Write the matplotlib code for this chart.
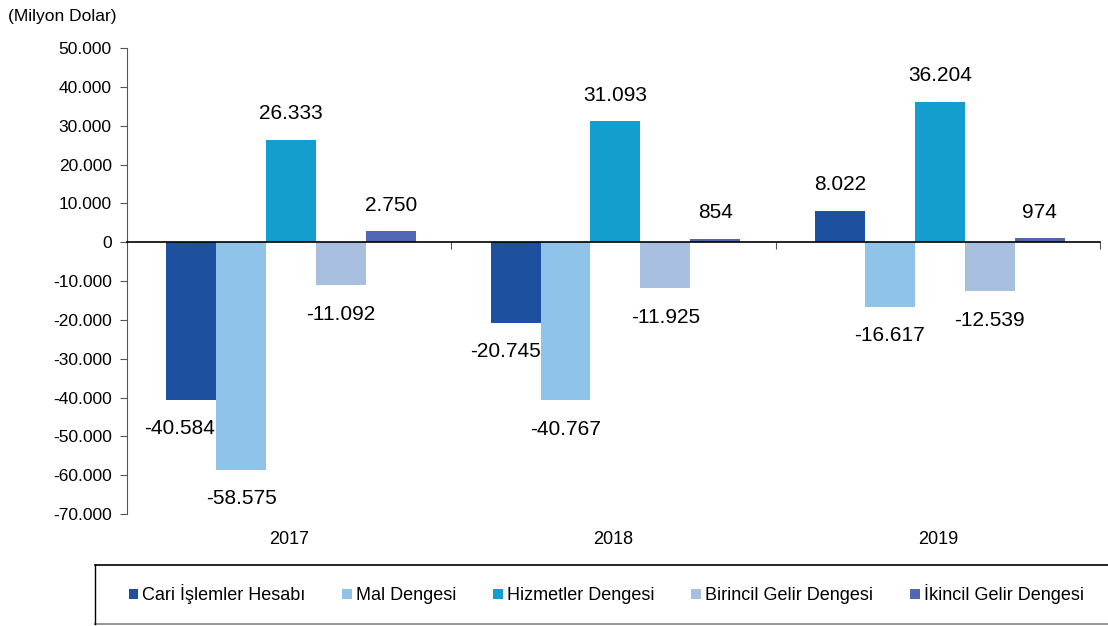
import matplotlib
matplotlib.use("Agg")
import matplotlib.pyplot as plt
import numpy as np

plt.rcParams['font.family'] = ['Liberation Sans', 'DejaVu Sans']

# Ödemeler dengesi ana kalemleri, milyon dolar
years = ["2017", "2018", "2019"]
series_names = ["Cari İşlemler Hesabı", "Mal Dengesi", "Hizmetler Dengesi",
                "Birincil Gelir Dengesi", "İkincil Gelir Dengesi"]
cari = [-40584, -20745, 8022]
mal = [-58575, -40767, -16617]
hizmet = [26333, 31093, 36204]
birincil = [-11092, -11925, -12539]
ikincil = [2750, 854, 974]

colors = ["#1D51A0", "#8FC3E9", "#139ECD", "#A8BFE0", "#5167B1"]
yticks = list(range(-70000, 50001, 10000))


def tr_fmt(v):
    # Turkish thousands separator
    s = "{:,.0f}".format(abs(v)).replace(",", ".")
    return "-" + s if v < 0 else s


fig = plt.figure(figsize=(11.08, 6.26), dpi=100)
ax = fig.add_axes([0.1146, 0.1789, 0.8782, 0.7444])

values = [cari, mal, hizmet, birincil, ikincil]
x = np.arange(len(years)) + 0.006
w = 0.154
# small sideways nudges for a couple of labels so they clear the next bar
nudge = {(0, 0): -12, (0, 1): -10}

for i, (name, vals, col) in enumerate(zip(series_names, values, colors)):
    pos = x + (i - 2) * w
    ax.bar(pos, vals, width=w, color=col, label=name, edgecolor="none")
    for j, (px, v) in enumerate(zip(pos, vals)):
        dx = nudge.get((i, j), 0)
        dy = 19 if v >= 0 else -21
        ax.annotate(tr_fmt(v), xy=(px, v), xytext=(dx * 0.72, dy),
                    textcoords="offset points", ha="center", va="center",
                    fontsize=15, color="black")

ax.set_xlim(-0.5, 2.5)
ax.set_ylim(-70000, 50000)
ax.set_yticks(yticks)
ax.set_yticklabels([tr_fmt(t) for t in yticks], fontsize=12.5)
ax.tick_params(axis="y", direction="out", length=5, color="#555555", pad=6)

ax.spines["top"].set_visible(False)
ax.spines["right"].set_visible(False)
ax.spines["left"].set_color("#555555")
ax.spines["bottom"].set_position(("data", 0))
ax.spines["bottom"].set_color("black")
ax.spines["bottom"].set_linewidth(1.2)
ax.set_xticks([0.5, 1.5, 2.5])
ax.set_xticklabels([])
ax.tick_params(axis="x", direction="out", length=5, color="#555555")

for k, yr in enumerate(years):
    ax.text(k, -0.054, yr, transform=ax.get_xaxis_transform(),
            ha="center", va="center", fontsize=13)

fig.text(0.007, 0.973, "(Milyon Dolar)", ha="left", va="center", fontsize=12.5)

leg = fig.legend(loc="center", bbox_to_anchor=(0.547, 0.0505), ncol=5,
                 frameon=False, fontsize=13, handlelength=0.55,
                 handleheight=0.42, handletextpad=0.2, columnspacing=2.05)

# legend frame: black top edge, grey bottom edge
fig.add_artist(plt.Line2D([95 / 1108, 1.0], [1 - 565 / 626] * 2,
                          color="black", lw=1.2, transform=fig.transFigure))
fig.add_artist(plt.Line2D([95 / 1108, 1.0], [1 - 624 / 626] * 2,
                          color="#999999", lw=1.5, transform=fig.transFigure))
fig.add_artist(plt.Line2D([95 / 1108] * 2, [1 - 565 / 626, 1 - 624 / 626],
                          color="black", lw=1.0, transform=fig.transFigure))

fig.savefig("out.png", dpi=100)
